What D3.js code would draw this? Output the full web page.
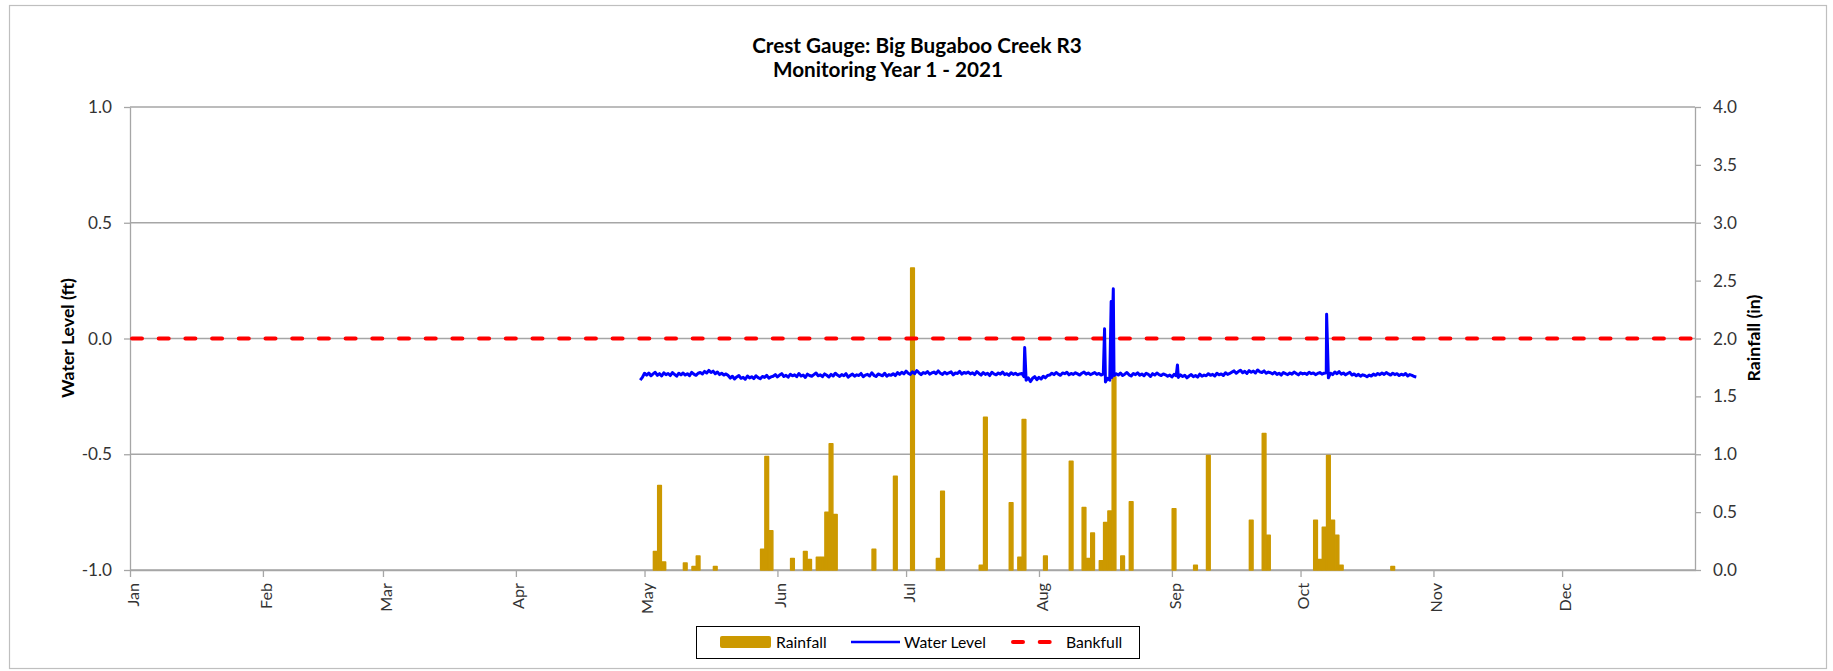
<!DOCTYPE html>
<html><head><meta charset="utf-8">
<script src="https://cdn.jsdelivr.net/npm/d3@7"></script>
<style>
body{margin:0;background:#fff}
svg{display:block}
text{font-family:Lato,"Open Sans",sans-serif}
</style>
</head><body>
<svg id="chart" width="1833" height="671"></svg>
<script>
// ---------------- DATA ----------------
const titleLines = ["Crest Gauge: Big Bugaboo Creek R3", "Monitoring Year 1 - 2021"];
const leftAxisTitle = "Water Level (ft)";
const rightAxisTitle = "Rainfall (in)";
const leftTicks = [-1.0, -0.5, 0.0, 0.5, 1.0];
const rightTicks = [0.0, 0.5, 1.0, 1.5, 2.0, 2.5, 3.0, 3.5, 4.0];
const yearStart = "2021-01-01";
const yearEnd = "2022-01-01";
const bankfullLevel = 0.0;
const legendLabels = ["Rainfall", "Water Level", "Bankfull"];

const rainDates = [
  "2021-05-03","2021-05-04","2021-05-05","2021-05-10","2021-05-12","2021-05-13","2021-05-17",
  "2021-05-28","2021-05-29","2021-05-30","2021-06-04","2021-06-07","2021-06-08","2021-06-10",
  "2021-06-11","2021-06-12","2021-06-13","2021-06-14","2021-06-23","2021-06-28","2021-07-02",
  "2021-07-08","2021-07-09","2021-07-18","2021-07-19","2021-07-25","2021-07-27","2021-07-28",
  "2021-08-02","2021-08-08","2021-08-11","2021-08-12","2021-08-13","2021-08-15","2021-08-16",
  "2021-08-17","2021-08-18","2021-08-20","2021-08-22","2021-09-01","2021-09-06","2021-09-09",
  "2021-09-19","2021-09-22","2021-09-23","2021-10-04","2021-10-05","2021-10-06","2021-10-07",
  "2021-10-08","2021-10-09","2021-10-10","2021-10-22"
];
const rainValues = [
  0.16,0.73,0.07,0.06,0.03,0.12,0.03,
  0.18,0.98,0.34,0.10,0.16,0.09,0.11,
  0.11,0.50,1.09,0.48,0.18,0.81,2.61,
  0.10,0.68,0.04,1.32,0.58,0.11,1.30,
  0.12,0.94,0.54,0.10,0.32,0.08,0.41,
  0.51,1.67,0.12,0.59,0.53,0.04,0.99,
  0.43,1.18,0.30,0.43,0.09,0.37,0.99,
  0.43,0.30,0.04,0.03
];

// Water level readings every 12 hours starting at levelStart
const levelStart = "2021-04-30T00:00";
const levelStepHours = 12;
const levelValues = [
  -0.180,-0.168,
  -0.150,-0.158,-0.149,-0.161,-0.153,-0.146,-0.159,-0.152,-0.162,-0.148,
  -0.156,-0.151,-0.160,-0.147,-0.155,-0.163,-0.150,-0.157,-0.149,-0.158,
  -0.152,-0.161,-0.146,-0.154,-0.159,-0.150,-0.147,-0.153,-0.142,-0.149,
  -0.138,-0.147,-0.141,-0.152,-0.145,-0.156,-0.150,-0.158,-0.153,-0.160,
  -0.171,-0.163,-0.175,-0.166,-0.160,-0.172,-0.168,-0.176,-0.162,-0.170,
  -0.165,-0.173,-0.161,-0.169,-0.174,-0.164,-0.168,-0.159,-0.171,-0.166,
  -0.163,-0.156,-0.166,-0.158,-0.152,-0.164,-0.159,-0.167,-0.155,-0.161,
  -0.157,-0.165,-0.151,-0.162,-0.158,-0.168,-0.154,-0.160,-0.163,-0.156,
  -0.149,-0.161,-0.157,-0.165,-0.153,-0.159,-0.166,-0.155,-0.162,-0.150,
  -0.158,-0.164,-0.156,-0.161,-0.152,-0.167,-0.159,-0.154,-0.163,-0.157,
  -0.160,-0.151,-0.165,-0.158,-0.155,-0.162,-0.148,-0.159,-0.164,-0.153,
  -0.157,-0.161,-0.150,-0.163,-0.156,-0.159,-0.152,-0.160,-0.147,-0.155,
  -0.146,-0.153,-0.141,-0.150,-0.155,-0.144,-0.152,-0.139,-0.148,-0.156,
  -0.147,-0.151,-0.143,-0.154,-0.149,-0.145,-0.152,-0.140,-0.150,-0.155,
  -0.146,-0.153,-0.148,-0.144,-0.157,-0.149,-0.151,-0.142,-0.154,-0.147,
  -0.150,-0.145,-0.153,-0.148,-0.156,-0.143,
  -0.151,-0.158,-0.147,-0.155,-0.150,-0.160,-0.146,-0.153,-0.157,-0.149,
  -0.154,-0.145,-0.156,-0.152,-0.159,-0.148,-0.155,-0.150,-0.157,-0.153,-0.151,
  -0.165,-0.180,-0.170,-0.186,-0.172,-0.165,-0.178,-0.168,-0.175,-0.163,-0.170,-0.160,-0.158,
  -0.150,-0.156,-0.147,-0.154,-0.159,-0.149,-0.152,-0.146,-0.157,-0.151,
  -0.155,-0.148,-0.153,-0.158,-0.150,-0.145,-0.154,-0.149,-0.156,-0.152,
  -0.147,-0.155,-0.151,-0.158,-0.153,
  -0.188,-0.172,-0.180,-0.168,-0.160,
  -0.152,-0.158,-0.149,-0.160,-0.154,-0.147,-0.157,-0.162,-0.151,-0.156,
  -0.148,-0.159,-0.153,-0.161,-0.150,-0.155,-0.164,-0.152,-0.158,-0.149,
  -0.156,-0.160,-0.153,-0.157,
  -0.163,-0.158,-0.166,-0.155,-0.161,-0.168,-0.157,-0.164,-0.159,-0.170,
  -0.162,-0.156,-0.165,-0.160,-0.167,-0.154,-0.163,-0.158,-0.161,-0.152,
  -0.159,-0.155,-0.162,-0.150,-0.157,-0.153,-0.160,-0.148,-0.155,-0.151,
  -0.145,-0.140,-0.150,-0.143,-0.137,-0.148,-0.142,-0.151,-0.139,-0.146,
  -0.141,-0.149,-0.136,-0.144,-0.147,-0.140,-0.150,-0.145,
  -0.148,-0.153,-0.146,-0.155,-0.150,-0.158,-0.147,-0.152,-0.156,-0.149,
  -0.154,-0.145,-0.151,-0.157,-0.148,-0.153,-0.150,-0.155,-0.146,-0.152,
  -0.149,-0.156,-0.151,-0.147,-0.154,-0.150,
  -0.148,-0.170,-0.150,-0.156,-0.145,-0.152,-0.143,-0.154,-0.149,-0.157,
  -0.151,-0.146,-0.158,-0.153,-0.161,-0.155,-0.163,-0.157,-0.160,-0.165,
  -0.158,-0.162,-0.154,-0.159,-0.151,-0.156,-0.149,-0.155,-0.147,-0.153,
  -0.158,-0.150,-0.156,-0.152,-0.160,-0.154,-0.158,-0.151,-0.162,-0.156,
  -0.159,-0.164,-0.166
];
// short-lived peaks recorded between the 12-hour readings
const spikeTimes = ["2021-07-28T16:00","2021-08-16T07:00","2021-08-17T20:00","2021-08-18T02:00","2021-08-18T08:00","2021-09-02T07:00","2021-10-07T02:00"];
const spikeValues = [-0.039, 0.042, 0.160, 0.030, 0.215, -0.114, 0.105];

// ---------------- CHART ----------------
const plot = {left:130, right:1695, top:107, bottom:570};
const rainColor = "#CC9900", levelColor = "#0000FF", bankColor = "#FF0000";
const gridColor = "#A6A6A6", textColor = "#333333";

const svg = d3.select("#chart");
const pDay = d3.utcParse("%Y-%m-%d");
const pTime = d3.utcParse("%Y-%m-%dT%H:%M");

// fit a text's font size so it spans the width seen in the reference
function fitWidth(sel, target){
  const n = sel.node();
  const fs = parseFloat(sel.style("font-size"));
  const L = n.getComputedTextLength();
  const nf = fs*target/L;
  sel.style("font-size", nf+"px");
  return nf;
}

const x = d3.scaleUtc().domain([pDay(yearStart), pDay(yearEnd)]).range([plot.left, plot.right]);
const yL = d3.scaleLinear().domain([-1, 1]).range([plot.bottom, plot.top]);
const yR = d3.scaleLinear().domain([0, 4]).range([plot.bottom, plot.top]);

// outer chart border
svg.append("rect").attr("x",9.5).attr("y",5.5).attr("width",1817).attr("height",663)
  .attr("fill","#fff").attr("stroke","#BFBFBF").attr("stroke-width",1.2);

// gridlines
svg.append("g").selectAll("line").data(leftTicks).join("line")
  .attr("x1",plot.left).attr("x2",plot.right)
  .attr("y1",d=>yL(d)).attr("y2",d=>yL(d))
  .attr("stroke",gridColor).attr("stroke-width",1.3);

// axes
const fmt = d => d.toFixed(1);
const gL = svg.append("g").attr("transform",`translate(${plot.left},0)`)
  .call(d3.axisLeft(yL).tickValues(leftTicks).tickFormat(fmt).tickSize(6).tickSizeOuter(0).tickPadding(12));
const gR = svg.append("g").attr("transform",`translate(${plot.right},0)`)
  .call(d3.axisRight(yR).tickValues(rightTicks).tickFormat(fmt).tickSize(6).tickSizeOuter(0).tickPadding(12));
const gB = svg.append("g").attr("transform",`translate(0,${plot.bottom})`)
  .call(d3.axisBottom(x).tickValues(d3.utcMonth.range(pDay(yearStart), pDay(yearEnd)))
    .tickFormat(d3.utcFormat("%b")).tickSize(7).tickSizeOuter(0));
[gL,gR,gB].forEach(g=>{
  g.select(".domain").attr("stroke",gridColor).attr("stroke-width",1.3);
  g.selectAll(".tick line").attr("stroke",gridColor).attr("stroke-width",1.3);
  g.selectAll(".tick text").attr("fill",textColor).style("font-size","15px").style("font-family","Lato, sans-serif");
});
// size tick labels from the reference "0.0" label width (~24px)
const tickFs = fitWidth(gL.selectAll(".tick text").filter(d=>d===0), 24);
[gL,gR].forEach(g=>g.selectAll(".tick text").style("font-size",tickFs+"px"));
const monFs = fitWidth(gB.selectAll(".tick text").filter((d,i)=>i===4), 31);
gB.selectAll(".tick text").style("font-size",monFs+"px")
  .attr("transform","rotate(-90)").attr("x",-13).attr("y",0).attr("dy","0.5em")
  .style("text-anchor","end");

// rainfall bars
const rain = rainDates.map((d,i)=>({date:pDay(d), v:rainValues[i]}));
svg.append("g").selectAll("rect").data(rain).join("rect")
  .each(function(d){
    const x0 = x(d.date), x1 = x(d3.utcDay.offset(d.date,1));
    const w = (x1-x0)*0.85, cx = (x0+x1)/2;
    d3.select(this).attr("x",cx-w/2).attr("width",w)
      .attr("y",yR(d.v)).attr("height",yR(0)-yR(d.v));
  })
  .attr("fill",rainColor).attr("stroke",rainColor).attr("stroke-width",1.5).attr("stroke-linejoin","round");

// bankfull
svg.append("line").attr("x1",plot.left+2).attr("x2",plot.right)
  .attr("y1",yL(bankfullLevel)).attr("y2",yL(bankfullLevel))
  .attr("stroke",bankColor).attr("stroke-width",4).attr("stroke-linecap","round")
  .attr("stroke-dasharray","10 16.7");

// water level
const start = pTime(levelStart);
const level = levelValues.map((v,i)=>({t:d3.utcHour.offset(start, i*levelStepHours), v}))
  .concat(spikeTimes.map((s,i)=>({t:pTime(s), v:spikeValues[i]})))
  .sort((a,b)=>a.t-b.t);
svg.append("path").datum(level)
  .attr("d", d3.line().x(d=>x(d.t)).y(d=>yL(d.v)))
  .attr("fill","none").attr("stroke",levelColor).attr("stroke-width",3).attr("stroke-linejoin","round");

// titles
const t1 = svg.append("text").attr("x",917).attr("y",53).attr("text-anchor","middle")
  .style("font-size","19px").style("font-weight","bold").attr("fill","#000").text(titleLines[0]);
const titleFs = fitWidth(t1, 330);
svg.append("text").attr("x",888).attr("y",77).attr("text-anchor","middle")
  .style("font-size",titleFs+"px").style("font-weight","bold").attr("fill","#000").text(titleLines[1]);
const a1 = svg.append("text").attr("transform","translate(68,338) rotate(-90)").attr("dy","0.35em")
  .attr("text-anchor","middle").style("font-size","15px").style("font-weight","bold").attr("fill","#000").text(leftAxisTitle);
const axFs = fitWidth(a1, 120);
svg.append("text").attr("transform","translate(1754,338) rotate(-90)").attr("dy","0.35em")
  .attr("text-anchor","middle").style("font-size",axFs+"px").style("font-weight","bold").attr("fill","#000").text(rightAxisTitle);

// legend
const lg = svg.append("g");
lg.append("rect").attr("x",696.5).attr("y",626.5).attr("width",443).attr("height",32)
  .attr("fill","#fff").attr("stroke","#000").attr("stroke-width",1);
lg.append("rect").attr("x",720).attr("y",636).attr("width",51).attr("height",12).attr("rx",2).attr("fill",rainColor);
lg.append("line").attr("x1",851).attr("x2",900).attr("y1",642).attr("y2",642).attr("stroke",levelColor).attr("stroke-width",2.5);
lg.append("line").attr("x1",1013).attr("x2",1050).attr("y1",642).attr("y2",642).attr("stroke",bankColor)
  .attr("stroke-width",4).attr("stroke-linecap","round").attr("stroke-dasharray","10 16.7");
const lx = [776, 904, 1066];
const legTexts = legendLabels.map((t,i)=>lg.append("text").attr("x",lx[i]).attr("y",647.5)
  .style("font-size","15px").attr("fill","#000").text(t));
const legFs = fitWidth(legTexts[1], 82);
legTexts.forEach(s=>s.style("font-size",legFs+"px"));
</script>
</body></html>
